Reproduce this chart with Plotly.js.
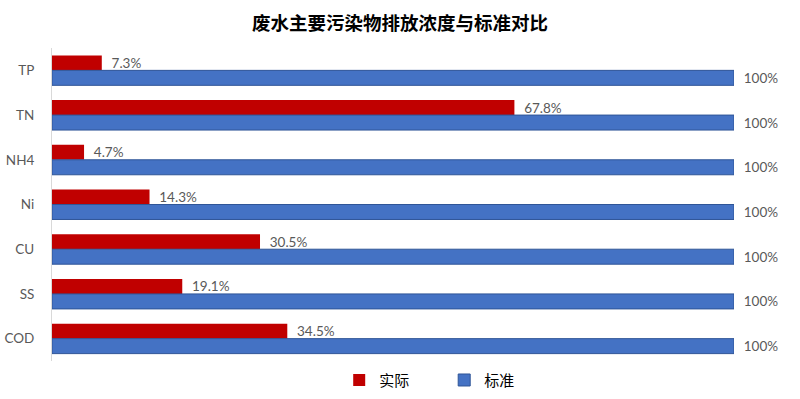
<!DOCTYPE html>
<html>
<head>
<meta charset="utf-8">
<script src="https://cdn.plot.ly/plotly-3.0.1.min.js"></script>
<style>html,body{margin:0;padding:0;background:#fff;}#chart{width:800px;height:399px;}</style>
</head>
<body>
<div id="chart"></div>
<script>
const categories = ['TP', 'TN', 'NH4', 'Ni', 'CU', 'SS', 'COD'];
const actualValues = [7.3, 67.8, 4.7, 14.3, 30.5, 19.1, 34.5];
const standardValues = [100, 100, 100, 100, 100, 100, 100];
const seriesNames = ['实际', '标准'];

const labelFont = {family: 'Lato, "Noto Sans CJK SC", sans-serif', size: 13.5, color: '#595959'};

const traces = [
  {
    type: 'bar', orientation: 'h', name: seriesNames[0],
    y: categories, x: actualValues,
    marker: {color: '#C00000'},
    text: actualValues.map(v => '\u2002' + v.toFixed(1) + '%'),
    textposition: 'outside', textfont: labelFont, cliponaxis: false,
    constraintext: 'none',
    hoverinfo: 'x+y'
  },
  {
    type: 'bar', orientation: 'h', name: seriesNames[1],
    y: categories, x: standardValues,
    marker: {color: '#4472C4', line: {color: '#2F5597', width: 1}},
    text: standardValues.map(v => '\u2002' + v + '%'),
    textposition: 'outside', textfont: labelFont, cliponaxis: false,
    constraintext: 'none',
    hoverinfo: 'x+y'
  }
];

const layout = {
  width: 800, height: 399,
  margin: {l: 52, r: 66, t: 48, b: 38, autoexpand: false},
  paper_bgcolor: '#ffffff', plot_bgcolor: '#ffffff',
  title: {
    text: '<b>废水主要污染物排放浓度与标准对比</b>',
    font: {family: '"Noto Sans CJK SC", sans-serif', size: 18.5, color: '#000000'},
    x: 0.5, xanchor: 'center', y: 0.94, yanchor: 'middle'
  },
  barmode: 'group', bargap: 0.33, bargroupgap: 0,
  xaxis: {range: [0, 100], visible: false, fixedrange: true},
  yaxis: {
    type: 'category', autorange: 'reversed',
    showline: true, linecolor: '#D9D9D9', linewidth: 1,
    showgrid: false, zeroline: false, ticks: '',
    ticklabelstandoff: 14,
    tickfont: {family: 'Lato, "Noto Sans", sans-serif', size: 13.5, color: '#595959'}
  },
  showlegend: true,
  legend: {
    orientation: 'h', x: 0.424, xanchor: 'left', xref: 'container',
    y: 0.047, yanchor: 'middle', yref: 'container',
    font: {family: '"Noto Sans CJK SC", sans-serif', size: 15, color: '#000000'},
    itemwidth: 30, entrywidth: 60, traceorder: 'normal'
  }
};

Plotly.newPlot('chart', traces, layout, {displayModeBar: false, staticPlot: true});
</script>
</body>
</html>
